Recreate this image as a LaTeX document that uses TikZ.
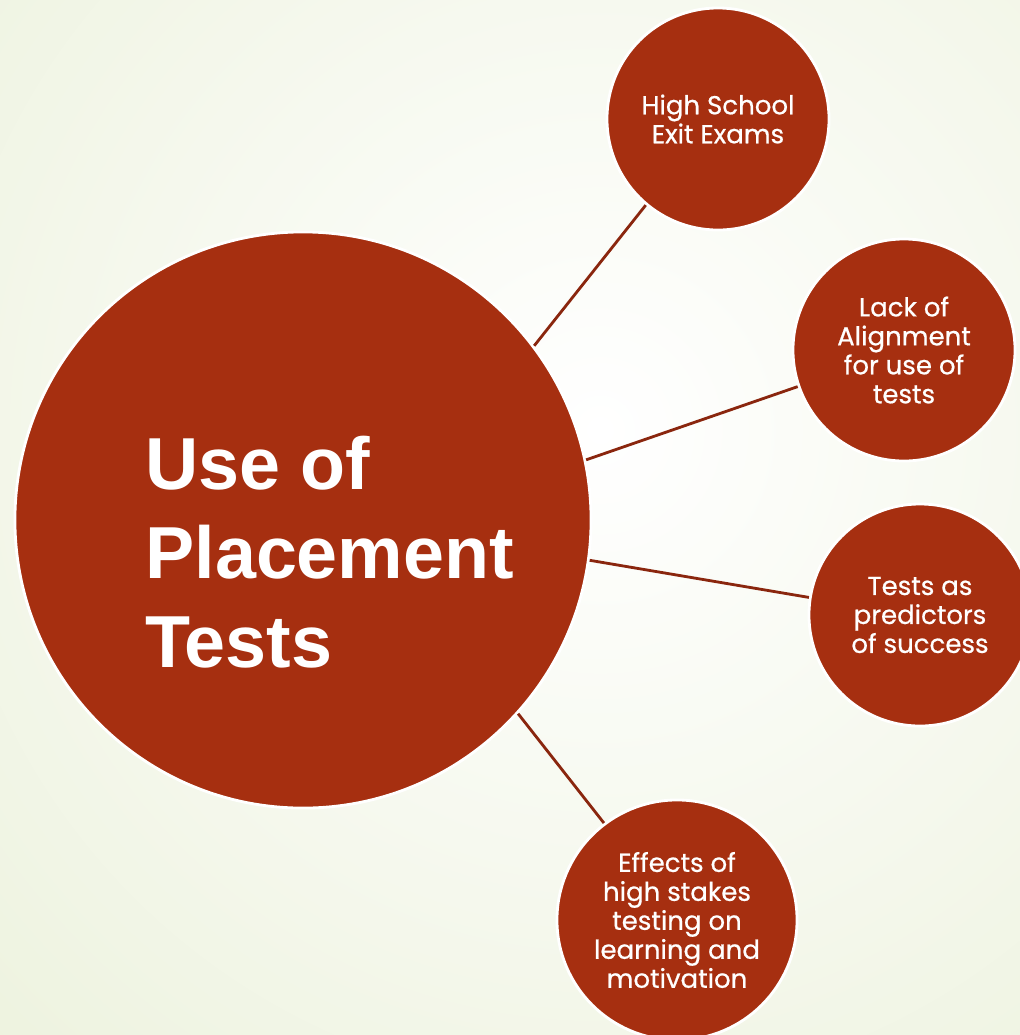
\documentclass[tikz,border=0pt]{standalone}
\usepackage{fontspec}
\usepackage{xcolor}
\usepackage{tikz}
\usetikzlibrary{positioning}
\newfontfamily\topicfont{Poppins}[FakeBold=0.6]
\newfontfamily\titlefont{Liberation Sans}
\definecolor{rust}{RGB}{166,47,16}
\definecolor{rustline}{RGB}{138,38,14}
\definecolor{paleback}{RGB}{228,236,206}

\begin{document}
\begin{tikzpicture}[x=0.025cm, y=-0.025cm, semithick, hub/.style ={circle, fill = rust, draw = white, line width=2pt, minimum size=14.4cm, inner sep=0pt}, topic/.style={circle, fill = rust, draw = white, line width=2pt, minimum size=5.55cm, inner sep=0pt, text = white, align=center, font=\topicfont\fontsize{18.5}{20.6}\selectfont}, spoke/.style={draw = rustline, line width=2pt}]
\useasboundingbox (0,0) rectangle (1020,1035);
\begin{scope}
\clip (0,0) rectangle (1020,1035);
\fill[paleback] (0,0) rectangle (1020,1035);
\shade[inner color = white, outer color = paleback] (600,430) circle (33cm);
\end{scope}
\node[hub] (M) at (303,520) {};
\node[text = white, align=left, anchor=north west, inner sep=0pt, font=\titlefont\bfseries\fontsize{52.4}{63}\selectfont] (Mtext) at (145,436) {Use of\\Placement\\Tests};
\node[topic] (A) at (718,119) {High School\\Exit Exams};
\node[topic] (B) at (904,350) {Lack of\\Alignment\\for use of\\tests};
\node[topic] (C) at (920,615) {Tests as\\predictors\\of success};
\node[topic, minimum size=6cm] (D) at (677,920) {Effects of\\high stakes\\testing on\\learning and\\motivation};
\path (M.37.5) edge[spoke] (A.230.6)
(M.12.1) edge[spoke] (B.199.6)
(M.-8.5) edge[spoke] (C.171.3)
(M.-42) edge[spoke] (D.127.2);
\end{tikzpicture}
\end{document}
